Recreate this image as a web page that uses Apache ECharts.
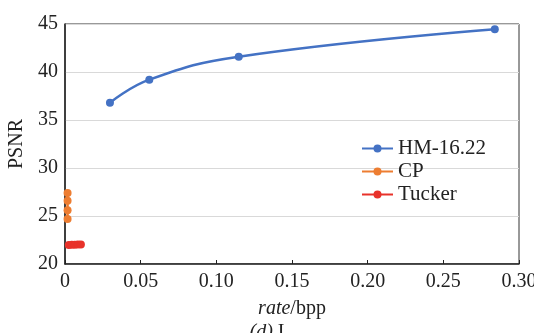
<!DOCTYPE html>
<html>
<head>
<meta charset="utf-8">
<script src="https://cdn.jsdelivr.net/npm/echarts@6/dist/echarts.min.js"></script>
<style>
  html, body { margin: 0; padding: 0; background: #fff; }
  #chart { width: 534px; height: 333px; }
</style>
</head>
<body>
<div id="chart"></div>
<script>
// rate (bpp) / PSNR pairs
const hmRate = [0.0297, 0.0557, 0.1148, 0.284]
const hmPsnr = [36.8, 39.2, 41.6, 44.45]
const cpRate = [0.0017, 0.0017, 0.0017, 0.0017]
const cpPsnr = [27.4, 26.6, 25.6, 24.7]
const tuckerRate = [0.0025, 0.0045, 0.0065, 0.0085, 0.0105]
const tuckerPsnr = [21.98, 22.0, 22.0, 22.02, 22.02]
const xTicks = ['0', '0.05', '0.10', '0.15', '0.20', '0.25', '0.30']

const pairs = (xs, ys) => xs.map((x, i) => [x, ys[i]])
const font = 'Liberation Serif'

const chart = echarts.init(document.getElementById('chart'))
chart.setOption({
  animation: false,
  textStyle: { fontFamily: font },
  title: {
    text: '{i|(d)} I',
    left: 'center',
    top: 318,
    textStyle: {
      fontFamily: font, fontSize: 20, fontWeight: 'normal', color: '#222',
      rich: { i: { fontFamily: font, fontSize: 20, fontStyle: 'italic', color: '#222' } }
    }
  },
  grid: {
    left: 65, top: 24, width: 454, height: 240,
    outerBoundsMode: 'none',
    containLabel: false,
    show: true, borderColor: '#333', borderWidth: 1
  },
  legend: {
    orient: 'vertical',
    left: 356,
    top: 133,
    itemWidth: 31,
    itemHeight: 10,
    itemGap: 2,
    textStyle: { fontFamily: font, fontSize: 21, color: '#222' },
    data: ['HM-16.22', 'CP', 'Tucker']
  },
  xAxis: {
    type: 'value',
    min: 0, max: 0.3, interval: 0.05,
    name: '{i|rate}/bpp',
    nameLocation: 'middle',
    nameGap: 35,
    nameTextStyle: {
      fontFamily: font, fontSize: 20, color: '#222',
      rich: { i: { fontFamily: font, fontSize: 20, fontStyle: 'italic', color: '#222' } }
    },
    axisLine: { lineStyle: { color: '#222', width: 1.5 } },
    axisTick: { inside: true, length: 4, lineStyle: { color: '#222' } },
    splitLine: { show: false },
    axisLabel: {
      fontFamily: font, fontSize: 20, color: '#222', margin: 8,
      formatter: (v) => xTicks[Math.round(v / 0.05)]
    }
  },
  yAxis: {
    type: 'value',
    min: 20, max: 45, interval: 5,
    name: 'PSNR',
    nameLocation: 'middle',
    nameGap: 33,
    nameTextStyle: { fontFamily: font, fontSize: 20, color: '#222' },
    axisLine: { show: true, lineStyle: { color: '#222', width: 1.5 } },
    axisTick: { show: false },
    splitLine: { lineStyle: { color: '#d9d9d9', width: 1 } },
    axisLabel: { fontFamily: font, fontSize: 20, color: '#222', margin: 7 }
  },
  series: [
    {
      name: 'HM-16.22',
      type: 'line',
      smooth: 0.45,
      symbol: 'circle',
      symbolSize: 8,
      color: '#4472c4',
      lineStyle: { width: 2.5 },
      data: pairs(hmRate, hmPsnr)
    },
    {
      name: 'CP',
      type: 'line',
      symbol: 'circle',
      symbolSize: 8,
      color: '#ed7d31',
      lineStyle: { width: 2.5 },
      data: pairs(cpRate, cpPsnr)
    },
    {
      name: 'Tucker',
      type: 'line',
      symbol: 'circle',
      symbolSize: 8,
      color: '#e8322a',
      lineStyle: { width: 2.5 },
      data: pairs(tuckerRate, tuckerPsnr)
    }
  ]
})
</script>
</body>
</html>
